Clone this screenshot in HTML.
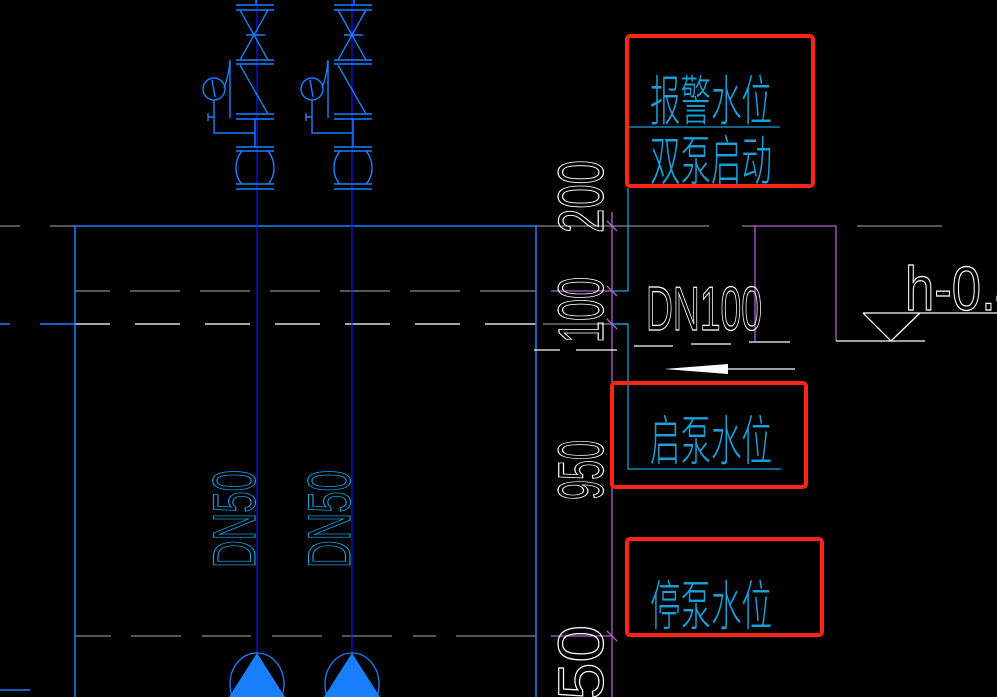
<!DOCTYPE html>
<html><head><meta charset="utf-8"><style>
html,body{margin:0;padding:0;background:#000;overflow:hidden}
svg{display:block}
.cj{font-family:"Liberation Sans","Noto Sans CJK SC",sans-serif;fill:#19a0d8;font-weight:300}
.w{font-family:"Liberation Sans",sans-serif;fill:none;stroke:#fff;stroke-width:1.2}
.b{font-family:"Liberation Sans",sans-serif;fill:none;stroke:#1a9ad8;stroke-width:1.2}
</style></head><body>
<svg width="997" height="697" viewBox="0 0 997 697" xmlns="http://www.w3.org/2000/svg">
<rect width="997" height="697" fill="#000"/>
<g stroke="#888" stroke-width="1.3" fill="none">
<path d="M0 226H20M50 226H75"/>
<path d="M536 226H709M742 226H755M857 226H942"/>
<path d="M75 291H110M130 291H180M200 291H250M270 291H320M340 291H390M410 291H460M480 291H536"/>
<path d="M75 636H111M131 636H181M202 636H251M272 636H322M342 636H392M413 636H436M456 636H536"/>
<path d="M543 324H628"/>
</g>
<path d="M75 324H110M135 324H180M205 324H250M275 324H320M345 324H390M415 324H460M485 324H536" stroke="#ddd" stroke-width="1.5"/>
<path d="M0 324H10M40 324H75" stroke="#1a7fff" stroke-width="1.5"/>
<g stroke="#1a7fff" stroke-width="1.5" fill="none">
<path d="M75 697V226H536V697"/>
<path d="M0 690H30"/>
</g>
<g stroke="#1414ff" stroke-width="1.2"><path d="M257 0V697M352 0V697"/></g>
<g id="v" stroke="#1a7fff" stroke-width="1.4" fill="none">
<path d="M256 0V5"/>
<path d="M236 5H274M236 10H274"/>
<path d="M240 10L268 60M268 10L240 60M246 35H265"/>
<path d="M236 60H274M236 64H274"/>
<path d="M240 65L268 114"/>
<path d="M236 114H274M236 119H274"/>
<circle cx="214" cy="89" r="11"/>
<path d="M212 80L215 97M214 100V133H255M208 113V121M208 117H214"/>
<path d="M230 118V60Q229 75 224 88"/>
<path d="M255 119V147"/>
<path d="M236 147H274M236 151H274M236 184H274M236 189H274"/>
<path d="M242 151Q236 158 236 168Q236 178 242 184M268 151Q274 158 274 168Q274 178 268 184"/>
</g>
<use href="#v" x="98"/>
<g stroke="#1a7fff" stroke-width="1.3" fill="none">
<ellipse cx="257" cy="684" rx="27" ry="31"/><ellipse cx="352" cy="684" rx="27" ry="31"/>
</g>
<path d="M257 653L285 697H229Z M352 653L380 697H324Z" fill="#1a7fff"/>
<text class="b" transform="translate(255,568) rotate(-90)" font-size="60" textLength="98" lengthAdjust="spacingAndGlyphs">DN50</text>
<text class="b" transform="translate(350,568) rotate(-90)" font-size="60" textLength="98" lengthAdjust="spacingAndGlyphs">DN50</text>
<g stroke="#b060d0" stroke-width="1.3" fill="none">
<path d="M612 212V697"/>
<path d="M551 291H612M551 636H612"/>
<path d="M755 341V226H836V341"/>
<path d="M607 221L617 231M607 286L617 296M607 319L617 329M607 631L617 641"/>
</g>
<g stroke="#19a0d8" stroke-width="1.3" fill="none">
<path d="M628 188V291H612"/>
<path d="M612 324H628V469H781"/>
<path d="M629 127H780"/>
</g>
<g stroke="#fff" stroke-width="1.3" fill="none">
<path d="M534 350H560M576 350H617"/>
<path d="M634 346H673M691 344H731M749 342H790"/>
<path d="M836 341H925M863 313H997M863 313L891 341L920 313"/>
<path d="M700 369H795"/>
</g>
<path d="M664 369L728 364V374Z" fill="#fff"/>
<text class="w" transform="translate(603,233) rotate(-90)" font-size="64" textLength="73" lengthAdjust="spacingAndGlyphs">200</text>
<text class="w" transform="translate(603,343) rotate(-90)" font-size="64" textLength="66" lengthAdjust="spacingAndGlyphs">100</text>
<text class="w" transform="translate(603,500) rotate(-90)" font-size="64" textLength="60" lengthAdjust="spacingAndGlyphs">950</text>
<text class="w" transform="translate(603,700) rotate(-90)" font-size="64" textLength="75" lengthAdjust="spacingAndGlyphs">50</text>
<text class="w" x="646" y="330" font-size="62" textLength="116" lengthAdjust="spacingAndGlyphs">DN100</text>
<text class="w" x="905" y="310" font-size="62" textLength="120" lengthAdjust="spacingAndGlyphs">h-0.4</text>
<text class="cj" x="650" y="120" font-size="54" textLength="122" lengthAdjust="spacingAndGlyphs">报警水位</text>
<text class="cj" x="650" y="180" font-size="54" textLength="122" lengthAdjust="spacingAndGlyphs">双泵启动</text>
<text class="cj" x="650" y="460" font-size="54" textLength="122" lengthAdjust="spacingAndGlyphs">启泵水位</text>
<text class="cj" x="650" y="625" font-size="54" textLength="122" lengthAdjust="spacingAndGlyphs">停泵水位</text>
<g stroke="#ff2418" stroke-width="4" fill="none">
<rect x="627" y="36" width="186" height="150" rx="3"/>
<rect x="612" y="383" width="194" height="104" rx="3"/>
<rect x="627" y="539" width="195" height="96" rx="3"/>
</g>
</svg>
</body></html>
